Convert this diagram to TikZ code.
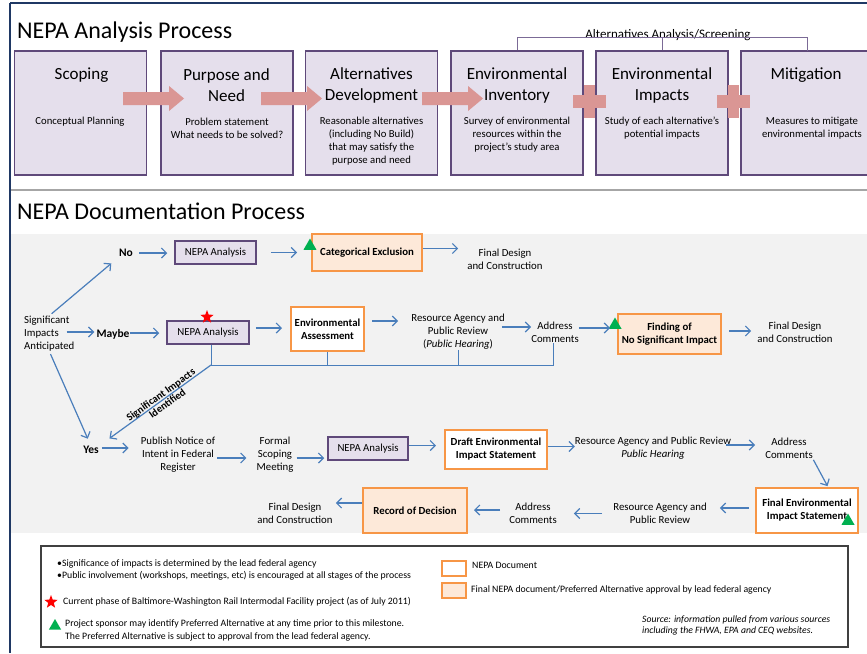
\documentclass[tikz,border=0pt]{standalone}
\usepackage{fontspec}
\setmainfont{Carlito}
\usetikzlibrary{arrows.meta,shapes.geometric,calc}
\definecolor{navy}{HTML}{1F3864}
\definecolor{sepgray}{HTML}{A6A6A6}
\definecolor{bggray}{HTML}{F2F2F2}
\definecolor{lav}{HTML}{E5DFEC}
\definecolor{purp}{HTML}{5F497A}
\definecolor{pinkarr}{HTML}{DA9694}
\definecolor{brk}{HTML}{7B6A96}
\definecolor{flowblue}{HTML}{4A7EBB}
\definecolor{orng}{HTML}{F79646}
\definecolor{peach}{HTML}{FDE9D9}
\definecolor{grn}{HTML}{00B050}
\definecolor{legb}{HTML}{404040}
\newcommand{\blockarr}[3]{% x0, xtip, ycenter
  \fill[pinkarr] (#1,#3-6.5) -- (#2-15,#3-6.5) -- (#2-15,#3-12.5) -- (#2,#3) -- (#2-15,#3+12.5) -- (#2-15,#3+6.5) -- (#1,#3+6.5) -- cycle;}
\newcommand{\plussign}[2]{% center
  \fill[pinkarr] (#1-16.5,#2-6.5) rectangle (#1+16.5,#2+6.5);
  \fill[pinkarr] (#1-5.5,#2-16.5) rectangle (#1+5.5,#2+16.5);}
\begin{document}
\begin{tikzpicture}[x=1pt,y=-1pt,
  abox/.style={draw=purp,fill=lav,line width=1.5pt,minimum width=132pt,minimum height=124pt,inner sep=0},
  ttl/.style={font=\fontsize{17}{21}\selectfont,align=center,inner sep=0},
  sub/.style={font=\fontsize{10.7}{13}\selectfont,align=center,inner sep=0},
  big/.style={font=\fontsize{24}{28}\selectfont,inner sep=0},
  txt/.style={font=\fontsize{10.8}{13}\selectfont,align=center,inner sep=0},
  lbl/.style={font=\fontsize{11.5}{13}\selectfont\bfseries,inner sep=0},
  nbox/.style={draw=purp,fill=lav,line width=1.5pt,font=\fontsize{10.8}{13}\selectfont,inner sep=0},
  dbox/.style={draw=orng,fill=white,line width=2pt,font=\fontsize{10.8}{13}\selectfont\bfseries,align=center,inner sep=0},
  fbox/.style={dbox,fill=peach},
  flow/.style={draw=flowblue,line width=1.2pt,-{Straight Barb[length=5pt,width=10pt,line width=1.2pt]}},
  fbk/.style={draw=flowblue,line width=0.9pt},
  tri/.style={regular polygon,regular polygon sides=3,fill=grn,inner sep=0,minimum size=15pt},
  rstar/.style={star,star points=5,star point ratio=2.4,fill=red,inner sep=0,minimum size=14pt},
  ltxt/.style={font=\fontsize{9.8}{13}\selectfont,inner sep=0,align=left,anchor=west}]
\useasboundingbox (0,0) rectangle (867,653);
% frame
\draw[navy,line width=2pt] (10,3) -- (867,3);
\draw[navy,line width=1.5pt] (10,3) -- (10,653);
\fill[sepgray] (11,188.5) rectangle (867,191);
% ===== Analysis process =====
\node[big,anchor=base west] (t1) at (17,38) {NEPA Analysis Process};
\node[abox] (scop) at (80.5,113) {};
\node[abox] (purp) at (227,113) {};
\node[abox] (altd) at (371.5,113) {};
\node[abox] (inv) at (517,113) {};
\node[abox] (imp) at (662,113) {};
\fill[lav] (741,51) rectangle (867,175);
\draw[purp,line width=1.5pt] (868,51) -- (741,51) -- (741,175) -- (868,175);
\coordinate (mit) at (807,51);
\node[ttl] (scopT) at (81.5,75) {Scoping};
\node[sub] (scopS) at (80,122) {Conceptual Planning};
\node[ttl] (purpT) at (226.5,85.5) {Purpose and\\Need};
\node[sub] (purpS) at (227,128.5) {Problem statement\\What needs to be solved?};
\node[ttl] (altdT) at (371.5,85.5) {Alternatives\\Development};
\node[sub] (altdS) at (371.5,141.5) {Reasonable alternatives\\(including No Build)\\that may satisfy the\\purpose and need};
\node[ttl] (invT) at (517,85.5) {Environmental\\Inventory};
\node[sub] (invS) at (517,135) {Survey of environmental\\resources within the\\project’s study area};
\node[ttl] (impT) at (662,85.5) {Environmental\\Impacts};
\node[sub] (impS) at (662,128.5) {Study of each alternative’s\\potential impacts};
\node[ttl] (mitT) at (806,75) {Mitigation};
\node[sub] (mitS) at (812,128.5) {Measures to mitigate\\environmental impacts};
\blockarr{123}{184}{98.5}
\blockarr{261}{322}{98.5}
\blockarr{422}{483}{98.5}
\plussign{589.5}{101.5}
\plussign{733.5}{101.5}
\node[font=\fontsize{13}{15}\selectfont,inner sep=0,anchor=base] (aas) at (668,38) {Alternatives Analysis/Screening};
\draw[brk,line width=0.8pt] (inv.north) -- ++(0,-13) -| (mit);
\draw[brk,line width=0.8pt] (imp.north) -- ++(0,-13);
% ===== Documentation process =====
\node[big,anchor=base west] (t2) at (17,219) {NEPA Documentation Process};
\fill[bggray] (11,234) rectangle (867,533);
% row 1
\node[lbl] (no) at (126,253) {No};
\node[nbox,minimum width=81pt,minimum height=23pt] (na1) at (215.5,252.5) {NEPA Analysis};
\node[fbox,minimum width=110pt,minimum height=37pt] (ce) at (367,252.5) {Categorical Exclusion};
\node[tri] (tr1) at (310,246) {};
\node[txt] (fd1) at (505,259.5) {Final Design\\and Construction};
% row 2
\node[txt,align=left,anchor=west] (sia) at (24,333.5) {Significant\\Impacts\\Anticipated};
\node[lbl] (maybe) at (113,334) {Maybe};
\node[nbox,minimum width=82pt,minimum height=23pt] (na2) at (208,332.5) {NEPA Analysis};
\node[rstar] (st) at (207,317) {};
\node[dbox,minimum width=73pt,minimum height=44pt] (ea) at (327.5,329) {Environmental\\Assessment};
\node[txt] (rar1) at (458,332) {Resource Agency and\\Public Review\\(\textit{Public Hearing})};
\node[txt] (ac1) at (555,332.5) {Address\\Comments};
\node[fbox,minimum width=103pt,minimum height=40pt] (fonsi) at (669.5,334) {Finding of\\No Significant Impact};
\node[tri] (tr2) at (615,325) {};
\node[txt] (fd2) at (795,332.5) {Final Design\\and Construction};
% row 3
\node[lbl] (yes) at (91,450) {Yes};
\node[txt] (pub) at (178,455) {Publish Notice of\\Intent in Federal\\Register};
\node[txt] (fsm) at (275,455) {Formal\\Scoping\\Meeting};
\node[nbox,minimum width=80pt,minimum height=23pt] (na3) at (368,448.5) {NEPA Analysis};
\node[dbox,minimum width=102pt,minimum height=39pt] (deis) at (496,449.5) {Draft Environmental\\Impact Statement};
\node[txt] (rar2) at (653,448.5) {Resource Agency and Public Review\\\textit{Public Hearing}};
\node[txt] (ac2) at (789,448.5) {Address\\Comments};
\node[dbox,minimum width=102pt,minimum height=45pt] (feis) at (807,510.5) {Final Environmental\\Impact Statement};
\node[tri] (tr3) at (848,521) {};
% row 4
\node[txt] (rar3) at (660,513.5) {Resource Agency and\\Public Review};
\node[txt] (ac3) at (533,513.5) {Address\\Comments};
\node[fbox,minimum width=104pt,minimum height=45pt] (rod) at (415,510.5) {Record of Decision};
\node[txt] (fd3) at (295,513.5) {Final Design\\and Construction};
% connectors row 1
\draw[flow,shorten <=3pt,shorten >=10pt] (sia.north) -- (no.south west);
\draw[flow,shorten <=6pt,shorten >=7pt] (no.east) -- (no.east -| na1.west);
\draw[flow,shorten <=14pt,shorten >=14pt] (na1.east) -- (na1.east -| ce.west);
\draw[flow,shorten >=9pt] ([yshift=4pt]ce.east) -- ([yshift=4pt]ce.east -| fd1.west);
% row 2
\draw[flow,shorten <=-8pt,shorten >=2pt] ([yshift=1.5pt]sia.east) -- ([yshift=1.5pt]sia.east -| maybe.west);
\draw[flow,shorten <=0pt,shorten >=7pt] ([yshift=1pt]maybe.east) -- ([yshift=1pt]maybe.east -| na2.west);
\draw[flow,shorten <=6pt,shorten >=8pt] ([yshift=4.5pt]na2.east) -- ([yshift=4.5pt]na2.east -| ea.west);
\draw[flow,shorten <=7pt,shorten >=13pt] ([yshift=8pt]ea.east) -- ([yshift=8pt]ea.east -| rar1.west);
\draw[flow,shorten <=-3pt,shorten >=0pt] ([yshift=5pt]rar1.east) -- ([yshift=5pt]rar1.east -| ac1.west);
\draw[flow,shorten <=0pt,shorten >=7pt] ([yshift=4.5pt]ac1.east) -- ([yshift=4.5pt]ac1.east -| fonsi.west);
\draw[flow,shorten <=7pt,shorten >=6pt] ([yshift=3pt]fonsi.east) -- ([yshift=3pt]fonsi.east -| fd2.west);
% feedback
\coordinate (fbline) at (0,365);
\draw[fbk] ([xshift=3pt]na2.south) -- ([xshift=3pt]na2.south |- fbline) -- ([xshift=-2pt]ac1.south |- fbline) -- ([xshift=-2pt]ac1.south);
\draw[fbk] (ea.south) -- (ea.south |- fbline);
\draw[fbk] (rar1.south) -- (rar1.south |- fbline);
\draw[flow,shorten >=13pt] ([xshift=3pt]na2.south |- fbline) -- node[pos=0.42,sloped,font=\fontsize{10.5}{11}\selectfont\bfseries,align=center,inner sep=0] (sii) {Significant Impacts\\Identified} (yes.north east);
\draw[flow,shorten <=3pt,shorten >=8pt] (sia.south) -- (yes.north);
% row 3
\draw[flow,shorten <=3pt,shorten >=12pt] ([yshift=2pt]yes.east) -- ([yshift=2pt]yes.east -| pub.west);
\draw[flow,shorten <=2pt,shorten >=10pt] ([yshift=-3pt]pub.east) -- ([yshift=-3pt]pub.east -| fsm.west);
\draw[flow,shorten <=3pt,shorten >=3pt] ([yshift=-3pt]fsm.east) -- ([yshift=-3pt]fsm.east -| na3.west);
\draw[flow,shorten >=8pt] ([yshift=3pt]na3.east) -- ([yshift=3pt]na3.east -| deis.west);
\draw[flow] ([yshift=3pt]deis.east) -- ([yshift=3pt]deis.east -| rar2.west);
\draw[flow,shorten <=-5pt,shorten >=10pt] ([yshift=3.5pt]rar2.east) -- ([yshift=3.5pt]rar2.east -| ac2.west);
\draw[flow,shorten <=1pt,shorten >=1pt] (ac2.south east) -- ([xshift=21pt]feis.north);
% row 4
\draw[flow,shorten <=6pt,shorten >=13pt] ([yshift=2.5pt]feis.west) -- ([yshift=2.5pt]feis.west -| rar3.east);
\draw[flow,shorten <=11pt,shorten >=17pt] (rar3.west) -- (rar3.west -| ac3.east);
\draw[flow,shorten <=9pt,shorten >=6pt] ([yshift=3.5pt]ac3.west) -- ([yshift=3.5pt]ac3.west -| rod.east);
\draw[flow,shorten >=3pt] ([yshift=7.5pt]rod.west) -- ([yshift=7.5pt]rod.west -| fd3.east);
% ===== Legend =====
\node[draw=legb,line width=1.3pt,fill=white,minimum width=807pt,minimum height=101pt,inner sep=0] (leg) at (444.5,596.5) {};
\node[ltxt] (l1) at (57,564) {•Significance of impacts is determined by the lead federal agency};
\node[ltxt] (l2) at (57,576) {•Public involvement (workshops, meetings, etc) is encouraged at all stages of the process};
\node[rstar] (lst) at (51,602) {};
\node[ltxt] (l3) at (63,602) {Current phase of Baltimore-Washington Rail Intermodal Facility project (as of July 2011)};
\node[tri,minimum size=14pt] (ltr) at (55,626) {};
\node[ltxt] (l4) at (65,630.5) {Project sponsor may identify Preferred Alternative at any time prior to this milestone.\\The Preferred Alternative is subject to approval from the lead federal agency.};
\node[draw=orng,fill=white,line width=2pt,minimum width=24pt,minimum height=15pt,inner sep=0] (lb1) at (454,568.5) {};
\node[ltxt] (l5) at (472,565) {NEPA Document};
\node[draw=orng,fill=peach,line width=2pt,minimum width=24pt,minimum height=15pt,inner sep=0] (lb2) at (454,590.5) {};
\node[ltxt] (l6) at (471,590) {Final NEPA document/Preferred Alternative approval by lead federal agency};
\node[ltxt,font=\fontsize{9.7}{11}\selectfont\itshape] (src) at (642,625) {Source: information pulled from various sources\\including the FHWA, EPA and CEQ websites.};
\end{tikzpicture}
\end{document}
